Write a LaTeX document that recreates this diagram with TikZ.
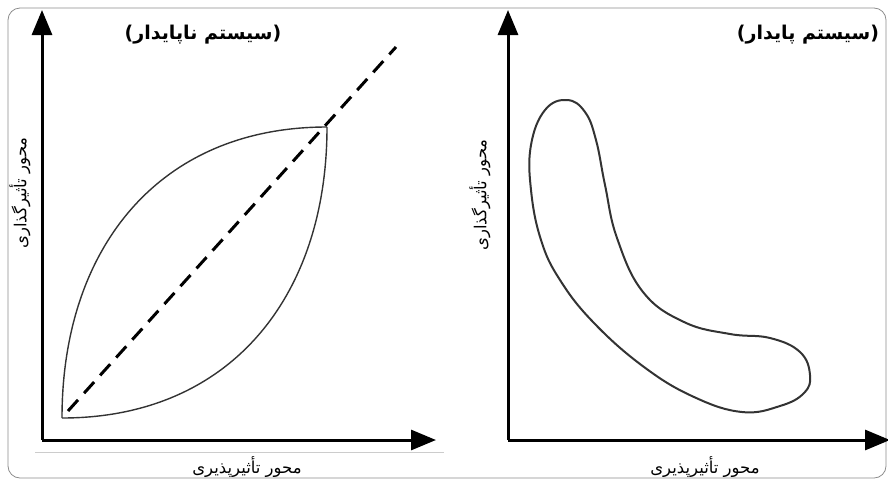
\documentclass[tikz,border=0pt]{standalone}
\usepackage{fontspec}
\newfontfamily\arabicfont[Script=Arabic]{DejaVu Sans}
\TeXXeTstate=1
\usetikzlibrary{arrows.meta}
\tikzset{
  axis/.style={line width=3pt,-{Triangle[length=25pt,width=20pt]}},
  curve/.style={line width=1.4pt,black!80},
  title/.style={font=\arabicfont\bfseries\fontsize{19}{22}\selectfont},
  axlabel/.style={font=\arabicfont\fontsize{16.5}{19}\selectfont}
}
\begin{document}
\begin{tikzpicture}[x=1pt,y=-1pt]
\useasboundingbox (0,0) rectangle (888,480);
\draw[black!45,line width=0.8pt,rounded corners=12pt] (8,8) rectangle (886,478);
\draw[black!20,line width=0.8pt] (35,452) -- (444,452);
% left panel: unstable system
\coordinate (O1) at (42,440);
\coordinate (Y1) at (42,10);
\coordinate (X1) at (436,440);
\draw[axis] (O1) -- (Y1);
\draw[axis] (O1) -- (X1);
\coordinate (A) at (62,418);
\coordinate (B) at (327,127);
\draw[curve] (A) to[out=90,in=180,looseness=1.1] (B);
\draw[curve] (A) to[out=0,in=-90,looseness=1.1] (B);
\coordinate (D1) at (68,411);
\coordinate (D2) at (396,47);
\draw[line width=3pt,dash pattern=on 15pt off 9pt] (D1) -- (D2);
\node[title] (t1) at (203,35) {\beginR(سیستم ناپایدار)\endR};
\node[axlabel,rotate=90] (ly1) at (20,193) {\beginR محور تأثیرگذاری\endR};
\node[axlabel] (lx1) at (247,467) {\beginR محور تأثیرپذیری\endR};
% right panel: stable system
\coordinate (O2) at (508,440);
\coordinate (Y2) at (508,10);
\coordinate (X2) at (890,440);
\draw[axis] (O2) -- (Y2);
\draw[axis] (O2) -- (X2);
\draw[curve,line width=2pt] plot[smooth cycle,tension=0.7] coordinates {
  (567,100) (585,112) (596,140) (605,185) (617,238) (643,292) (684,322)
  (730,334) (770,338) (800,352) (810,375) (804,393) (780,406) (742,412)
  (694,397) (644,367) (594,323) (560,280) (541,240) (531,190) (531,145)
  (545,110)};
\node[title] (t2) at (808,35) {\beginR(سیستم پایدار)\endR};
\node[axlabel,rotate=90] (ly2) at (480,195) {\beginR محور تأثیرگذاری\endR};
\node[axlabel] (lx2) at (705,467) {\beginR محور تأثیرپذیری\endR};
\end{tikzpicture}
\end{document}
